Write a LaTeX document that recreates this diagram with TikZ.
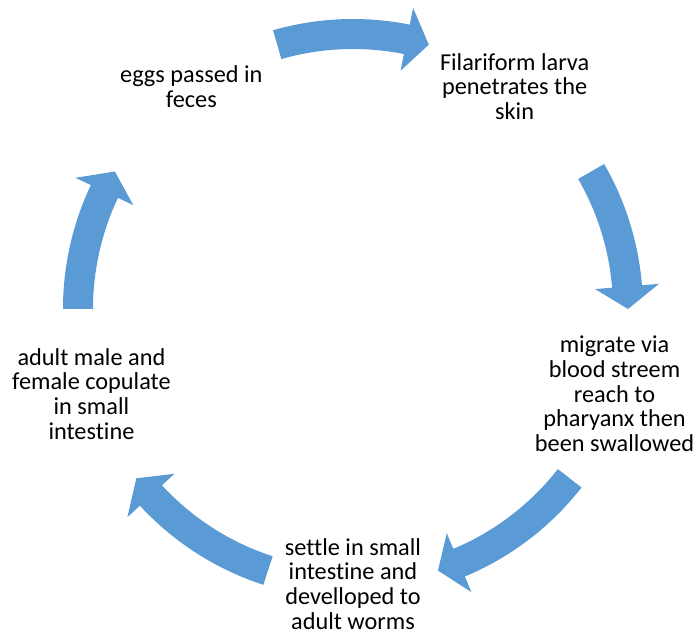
\documentclass[tikz,border=0pt]{standalone}
\usepackage{fontspec}
\setmainfont{Carlito}[Ligatures=NoCommon]
\usetikzlibrary{calc}
\definecolor{arrowblue}{HTML}{5B9BD5}
\begin{document}
\begin{tikzpicture}[
  lbl/.style={align=center, inner sep=0pt, font=\fontsize{24.3}{24.7}\selectfont, text=black},
  arrowfill/.style={fill=arrowblue, draw=none}
]
\useasboundingbox (-353pt,-328pt) rectangle (344pt,309pt);
\coordinate (c) at (0,0);
% cycle arrows (math angles: start -> tip), head length 4.7 deg
\foreach \a/\b in {106/74, 30/0, -38/-72, -108/-142, -180/-210}{
  \pgfmathsetmacro{\hb}{\b+4.7}
  \fill[arrowfill] ($(c)+(\a:290pt)$) arc[start angle=\a, end angle=\hb, radius=290pt]
    -- ($(c)+(\hb:307pt)$) -- ($(c)+(\b:275pt)$) -- ($(c)+(\hb:243pt)$) -- ($(c)+(\hb:260pt)$)
    arc[start angle=\hb, end angle=\a, radius=260pt] -- cycle;
}
\node[lbl] (n1) at (126:275pt) {eggs passed in\\feces};
\node[lbl] (n2) at (54:275pt) {Filariform larva\\penetrates the\\skin};
\node[lbl] (n3) at (-18:275pt) {migrate via\\blood streem\\reach to\\pharyanx then\\been swallowed};
\node[lbl] (n4) at (-90:275pt) {settle in small\\intestine and\\develloped to\\adult worms};
\node[lbl] (n5) at (-162:275pt) {adult male and\\female copulate\\in small\\intestine};
\end{tikzpicture}
\end{document}
